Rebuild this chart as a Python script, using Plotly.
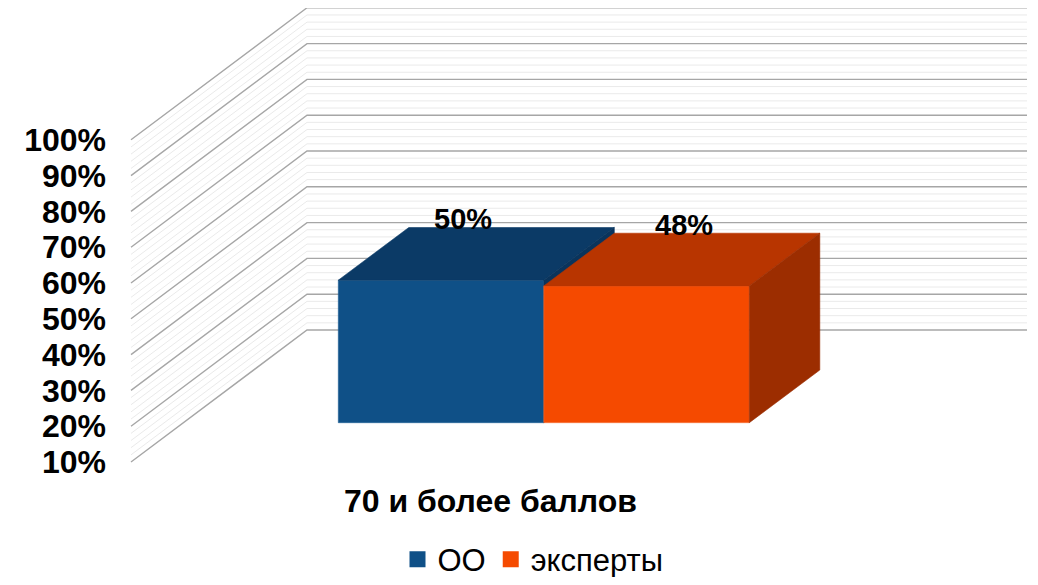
import plotly.graph_objects as go

# ---------------- data ----------------
categories = ["70 и более баллов"]
series_names = ["ОО", "эксперты"]
values = [0.50, 0.48]
tick_vals = [0.1, 0.2, 0.3, 0.4, 0.5, 0.6, 0.7, 0.8, 0.9, 1.0]
tick_text = ["10%", "20%", "30%", "40%", "50%", "60%", "70%", "80%", "90%", "100%"]
label_text = ["50%", "48%"]

front_colors = ["#0F5087", "#F54A00"]
top_colors = ["#0B3A66", "#B83500"]
side_colors = ["#0A345C", "#9C2D00"]
edge_colors = ["#1E5F95", "#F7733A"]

# ---------------- geometry (styles / layout) ----------------
W, H = 1038, 585
OFF = 8                      # page body margin
FW, FH = W - 2 * OFF, H - 2 * OFF
FONT = "Arial, Liberation Sans, sans-serif"


def px_y_to_paper(py):
    return (FH - (py - OFF)) / FH


def px_x_to_paper(px):
    return (px - OFF) / FW


def value_range(k, ref_value, ref_px):
    # axis range so that ref_value sits at screen pixel ref_px, k px per unit
    r0 = ref_value - (OFF + FH - ref_px) / k
    return [r0, r0 + FH / k]


# wall / tick axis (y)
K_WALL = 358.0
y_range = value_range(K_WALL, 0.1, 462.0)
SIDE_X0, BACK_X0, BACK_X1 = 131.0, 307.0, 1027.0
WALL_DEPTH = 132.0 / K_WALL

# bar plane axis (y2)
K_BAR = 285.0
y2_range = value_range(K_BAR, 0.0, 422.7)
BAR_X0 = 338.3
BAR_W = 205.5
DEPTH_DX = 70.5
DEPTH_DY = 52.7 / K_BAR
LABEL_VP_X, LABEL_SPREAD = 648.0, 0.0756   # slight perspective spread of the labels

fig = go.Figure()

# ---------------- walls ----------------
minor_x, minor_y, major_x, major_y = [], [], [], []
n_steps = int(round((tick_vals[-1] - tick_vals[0]) / 0.02))
for i in range(n_steps + 1):
    v = tick_vals[0] + i * 0.02
    xs = [SIDE_X0, BACK_X0, BACK_X1, None]
    ys = [v, v + WALL_DEPTH, v + WALL_DEPTH, None]
    if i % 5 == 0:
        major_x += xs
        major_y += ys
    else:
        minor_x += xs
        minor_y += ys

fig.add_trace(go.Scatter(x=minor_x, y=minor_y, mode="lines",
                         line=dict(color="#EAEAEA", width=1), showlegend=False, hoverinfo="skip"))
fig.add_trace(go.Scatter(x=major_x, y=major_y, mode="lines",
                         line=dict(color="#A6A6A6", width=1.4), showlegend=False, hoverinfo="skip"))


# ---------------- 3D bars ----------------
def poly(trace_x, trace_y, color, edge):
    fig.add_trace(go.Scatter(x=trace_x, y=trace_y, yaxis="y2", mode="lines", fill="toself",
                             fillcolor=color, line=dict(color=edge, width=0.6),
                             showlegend=False, hoverinfo="skip"))


for i, v in enumerate(values):
    x0 = BAR_X0 + i * BAR_W
    x1 = x0 + BAR_W
    poly([x0, x1, x1, x0, x0], [0, 0, v, v, 0], front_colors[i], edge_colors[i])
    poly([x0, x1, x1 + DEPTH_DX, x0 + DEPTH_DX, x0],
         [v, v, v + DEPTH_DY, v + DEPTH_DY, v], top_colors[i], top_colors[i])
    poly([x1, x1 + DEPTH_DX, x1 + DEPTH_DX, x1, x1],
         [0, DEPTH_DY, v + DEPTH_DY, v, 0], side_colors[i], side_colors[i])

# legend entries
for i, name in enumerate(series_names):
    fig.add_trace(go.Scatter(x=[None], y=[None], yaxis="y2", mode="markers", name=name,
                             marker=dict(symbol="square", size=16, color=front_colors[i])))

# data labels
annotations = []
for i, v in enumerate(values):
    x0 = BAR_X0 + i * BAR_W
    top_cx = x0 + BAR_W / 2 + DEPTH_DX / 2
    annotations.append(dict(
        x=top_cx + (top_cx - LABEL_VP_X) * LABEL_SPREAD, y=v + DEPTH_DY / 2 + 35 / K_BAR,
        xref="x", yref="y2", text=label_text[i], showarrow=False,
        xanchor="center", yanchor="middle",
        font=dict(family=FONT, size=29, color="black", weight="bold")))

annotations.append(dict(
    x=490, y=px_y_to_paper(501), xref="x", yref="paper", text=categories[0], showarrow=False,
    xanchor="center", yanchor="middle",
    font=dict(family=FONT, size=32, color="black", weight="bold")))

fig.update_layout(
    width=FW, height=FH,
    margin=dict(l=0, r=0, t=0, b=0, autoexpand=False),
    paper_bgcolor="white", plot_bgcolor="white",
    xaxis=dict(range=[OFF, OFF + FW], visible=False, fixedrange=True, automargin=False),
    yaxis=dict(range=y_range, anchor="free", position=px_x_to_paper(106), side="left",
               tickvals=tick_vals, ticktext=tick_text, showgrid=False, zeroline=False,
               showline=False, ticks="", fixedrange=True, automargin=False,
               tickfont=dict(family=FONT, size=32, color="black", weight="bold")),
    yaxis2=dict(range=y2_range, overlaying="y", visible=False, fixedrange=True),
    legend=dict(orientation="h", x=px_x_to_paper(533), xanchor="center",
                y=-0.017, yanchor="bottom", borderwidth=0,
                font=dict(family=FONT, size=31, color="black"), bgcolor="rgba(0,0,0,0)"),
    annotations=annotations,
    showlegend=True,
)

fig.write_html("out.html")
